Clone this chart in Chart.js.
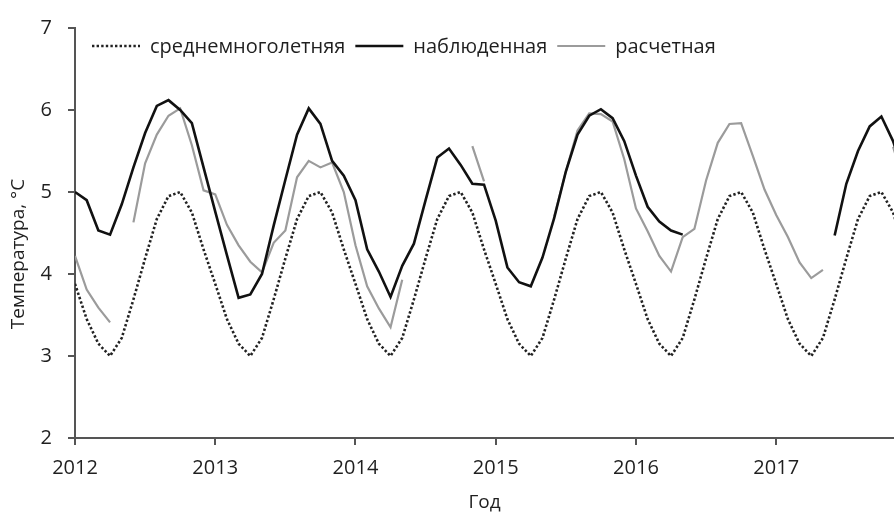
<!DOCTYPE html>
<html lang="ru">
<head>
<meta charset="utf-8">
<script src="https://cdn.jsdelivr.net/npm/chart.js@4.4.1/dist/chart.umd.min.js"></script>
<style>
  html, body { margin: 0; padding: 0; background: #fff; }
  #wrap { width: 894px; height: 514px; }
</style>
</head>
<body>
<div id="wrap"><canvas id="tempChart" width="894" height="514"></canvas></div>
<script>
// monthly series, Jan 2012 .. Dec 2017 (72 months), °C
const startYear = 2012;
const yearTicks = [2012, 2013, 2014, 2015, 2016, 2017];
const tempTicks = [2, 3, 4, 5, 6, 7];

const longTermMean = [
  3.88, 3.45, 3.15, 3.0, 3.22, 3.69, 4.19, 4.67, 4.95, 5.0, 4.75, 4.3,
  3.88, 3.45, 3.15, 3.0, 3.22, 3.69, 4.19, 4.67, 4.95, 5.0, 4.75, 4.3,
  3.88, 3.45, 3.15, 3.0, 3.22, 3.69, 4.19, 4.67, 4.95, 5.0, 4.75, 4.3,
  3.88, 3.45, 3.15, 3.0, 3.22, 3.69, 4.19, 4.67, 4.95, 5.0, 4.75, 4.3,
  3.88, 3.45, 3.15, 3.0, 3.22, 3.69, 4.19, 4.67, 4.95, 5.0, 4.75, 4.3,
  3.88, 3.45, 3.15, 3.0, 3.22, 3.69, 4.19, 4.67, 4.95, 5.0, 4.75, 4.3
];

const observed = [
  5.0, 4.9, 4.53, 4.48, 4.85, 5.3, 5.72, 6.05, 6.12, 6.0, 5.84, 5.3,
  4.76, 4.23, 3.71, 3.75, 4.0, 4.59, 5.15, 5.7, 6.02, 5.83, 5.38, 5.2,
  4.9, 4.3, 4.03, 3.72, 4.1, 4.37, 4.9, 5.42, 5.53, 5.33, 5.1, 5.09,
  4.65, 4.08, 3.9, 3.85, 4.2, 4.68, 5.25, 5.7, 5.93, 6.01, 5.9, 5.62,
  5.2, 4.82, 4.64, 4.53, 4.48, null, null, null, null, null, null, null,
  null, null, null, null, null, 4.47, 5.1, 5.5, 5.8, 5.92, 5.62, 5.2
];

const modelled = [
  4.22, 3.81, 3.59, 3.41, null, 4.63, 5.35, 5.7, 5.93, 6.02, 5.57, 5.02,
  4.97, 4.6, 4.35, 4.15, 4.02, 4.38, 4.53, 5.18, 5.38, 5.3, 5.36, 5.0,
  4.35, 3.85, 3.58, 3.35, 3.93, null, null, null, null, null, 5.56, 5.13,
  null, null, null, null, null, 4.7, 5.25, 5.75, 5.96, 5.95, 5.86, 5.4,
  4.8, 4.52, 4.22, 4.03, 4.45, 4.55, 5.14, 5.6, 5.83, 5.84, 5.44, 5.03,
  4.72, 4.45, 4.14, 3.95, 4.05, null, null, null, null, null, 5.55, 5.1
];

const toPoints = (arr) => arr.map((v, i) => ({ x: startYear + i / 12, y: v }));

const FONT = "'Open Sans', 'DejaVu Sans', sans-serif";
const TEXT = "#1f1f1f";
const AXIS = "#555555";

// legend drawn inside the plot, on one row under the top tick
const inlineLegend = {
  id: "inlineLegend",
  afterDraw(chart, args, opts) {
    const ctx = chart.ctx;
    let x = opts.x;
    const y = opts.y;
    ctx.save();
    ctx.font = opts.font;
    ctx.textBaseline = "middle";
    chart.data.datasets.forEach((ds) => {
      ctx.beginPath();
      ctx.setLineDash(ds.borderDash || []);
      ctx.lineCap = ds.borderCapStyle || "butt";
      ctx.lineWidth = ds.borderWidth;
      ctx.strokeStyle = ds.borderColor;
      ctx.moveTo(x, y);
      ctx.lineTo(x + opts.sample, y);
      ctx.stroke();
      x += opts.sample + opts.gap;
      ctx.setLineDash([]);
      ctx.fillStyle = opts.color;
      ctx.fillText(ds.label, x, y + 1);
      x += ctx.measureText(ds.label).width + opts.gap;
    });
    ctx.restore();
  }
};

// rotated y-axis caption, a little below the axis middle
const yCaption = {
  id: "yCaption",
  afterDraw(chart, args, opts) {
    const ctx = chart.ctx;
    ctx.save();
    ctx.translate(opts.x, opts.y);
    ctx.rotate(-Math.PI / 2);
    ctx.font = opts.font;
    ctx.fillStyle = opts.color;
    ctx.textAlign = "center";
    ctx.textBaseline = "middle";
    ctx.fillText(opts.text, 0, 0);
    ctx.restore();
  }
};

new Chart(document.getElementById("tempChart"), {
  type: "line",
  data: {
    datasets: [
      {
        label: "среднемноголетняя",
        data: toPoints(longTermMean),
        borderColor: "#222222",
        borderWidth: 2.6,
        borderDash: [2.4, 2.2],
        pointRadius: 0,
        tension: 0,
      },
      {
        label: "наблюденная",
        data: toPoints(observed),
        borderColor: "#111111",
        borderWidth: 2.6,
        pointRadius: 0,
        tension: 0,
      },
      {
        label: "расчетная",
        data: toPoints(modelled),
        borderColor: "#9b9b9b",
        borderWidth: 2.2,
        pointRadius: 0,
        tension: 0,
      },
    ],
  },
  options: {
    responsive: false,
    animation: false,
    layout: { padding: { top: 24, right: 0, bottom: 0, left: 0 } },
    plugins: {
      legend: { display: false },
      tooltip: { enabled: false },
      inlineLegend: {
        x: 92,
        y: 46,
        sample: 48,
        gap: 10,
        font: "20px " + FONT,
        color: TEXT,
      },
      yCaption: {
        text: "Температура, °С",
        x: 19,
        y: 254,
        font: "19px " + FONT,
        color: TEXT,
      },
    },
    scales: {
      x: {
        type: "linear",
        min: 2012,
        max: 2017.84,
        afterBuildTicks: (s) => { s.ticks = yearTicks.map((v) => ({ value: v })); },
        afterFit: (s) => { s.height = 76; },
        ticks: {
          color: TEXT,
          font: { family: FONT, size: 20 },
          padding: 11,
          maxRotation: 0,
          callback: (v) => String(v),
        },
        grid: { drawOnChartArea: false, tickLength: 7, color: AXIS, lineWidth: 2 },
        border: { color: AXIS, width: 2 },
        title: {
          display: true,
          text: "Год",
          color: TEXT,
          font: { family: FONT, size: 19 },
          padding: { top: 0, bottom: 0 },
        },
      },
      y: {
        min: 2,
        max: 7,
        afterBuildTicks: (s) => { s.ticks = tempTicks.map((v) => ({ value: v })); },
        afterFit: (s) => { s.width = 75; },
        ticks: {
          color: TEXT,
          font: { family: FONT, size: 20 },
          padding: 16,
        },
        grid: { drawOnChartArea: false, tickLength: 7, color: AXIS, lineWidth: 2 },
        border: { color: AXIS, width: 2 },
      },
    },
  },
  plugins: [inlineLegend, yCaption],
});
</script>
</body>
</html>
